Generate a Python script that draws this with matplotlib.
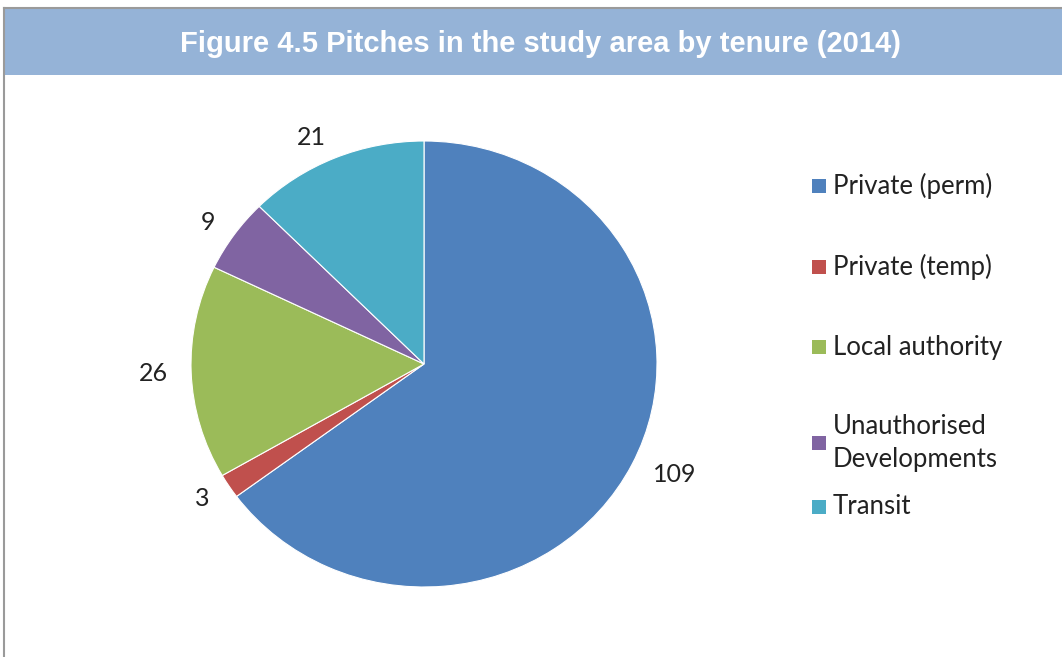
import matplotlib.pyplot as plt
import matplotlib as mpl
from matplotlib.patches import Rectangle
from matplotlib.lines import Line2D

mpl.rcParams['font.family'] = ['Lato', 'DejaVu Sans']

TITLE = 'Figure 4.5 Pitches in the study area by tenure (2014)'
CATEGORIES = ['Private (perm)', 'Private (temp)', 'Local authority',
              'Unauthorised\nDevelopments', 'Transit']
PITCHES = [109, 3, 26, 9, 21]
COLORS = ['#4F81BD', '#C0504D', '#9BBB59', '#8064A2', '#4BACC6']

W, H = 1062, 657
fig = plt.figure(figsize=(W / 100, H / 100), dpi=100)


def fx(px):
    return px / W


def fy(py):
    return 1 - py / H


# frame lines + title band
fig.add_artist(Line2D([fx(4), fx(4)], [0, fy(8)], color='#9A9A9A', lw=1.5))
fig.add_artist(Line2D([fx(4), 1], [fy(8), fy(8)], color='#9A9A9A', lw=1.5))
fig.add_artist(Rectangle((fx(5), fy(75)), 1 - fx(5), fy(9) - fy(75),
                         transform=fig.transFigure, facecolor='#95B3D7',
                         edgecolor='none'))
fig.text(fx(540), fy(44), TITLE, ha='center', va='center', color='white',
         fontsize=21, fontweight='bold', family='Liberation Sans')

# pie: centre (424, 364), rx 233, ry 223
cx, cy, rx, ry = 424, 364, 233, 223
ax = fig.add_axes([fx(cx - 1.25 * rx), fy(cy + 1.25 * ry), 2.5 * rx / W, 2.5 * ry / H])
wedges, texts = ax.pie(PITCHES, labels=[str(v) for v in PITCHES], colors=COLORS,
                       startangle=90, counterclock=False, labeldistance=1.1,
                       wedgeprops=dict(edgecolor='white', linewidth=0.8),
                       textprops=dict(fontsize=18, color='#222222'))
ax.set_aspect('auto')
ax.set_xlim(-1.25, 1.25)
ax.set_ylim(-1.25, 1.25)
ax.axis('off')

# legend (Excel-style spacing)
LEGEND_Y = [186, 267, 347, 443, 507]
for lab, col, y in zip(CATEGORIES, COLORS, LEGEND_Y):
    fig.add_artist(Rectangle((fx(812), fy(y + 7)), 14 / W, 14 / H,
                             transform=fig.transFigure, facecolor=col,
                             edgecolor='none'))
    fig.text(fx(833), fy(y), lab, ha='left', va='center', fontsize=18.5,
             color='#222222', linespacing=1.45)

fig.savefig('out.png', dpi=100)
